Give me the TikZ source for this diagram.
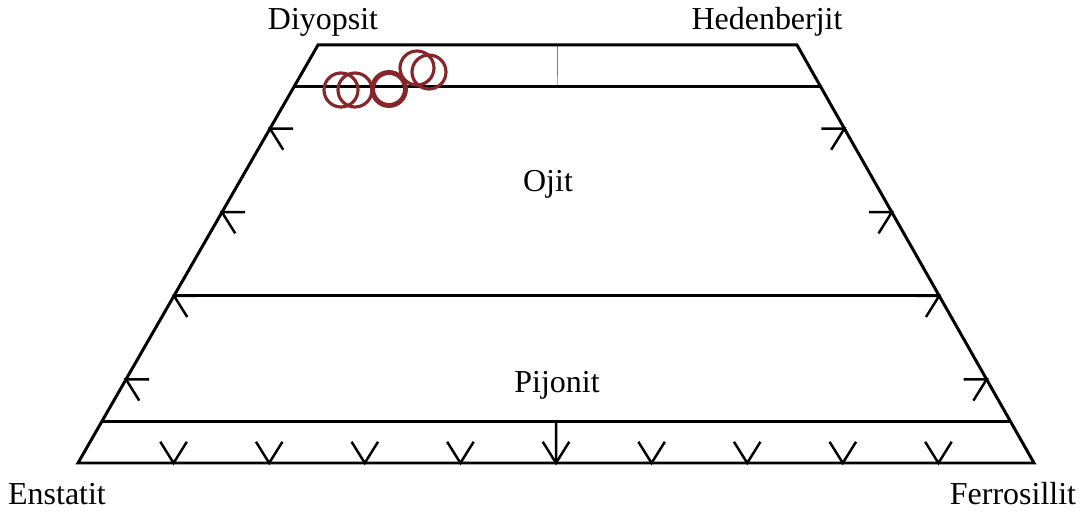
\documentclass[tikz,border=0pt]{standalone}
\usepackage{fontspec}
\setmainfont{Liberation Serif}
\usetikzlibrary{calc}
\definecolor{garnet}{RGB}{135,38,40}
\tikzset{
  frame/.style={black, line width=1.7pt},
  tickline/.style={black, line width=1.4pt},
  spot/.style={garnet, line width=1.8pt},
  lbl/.style={anchor=base, inner sep=0pt, font=\fontsize{18.2}{22}\selectfont}
}
\begin{document}
\begin{tikzpicture}[x=0.02cm,y=0.02cm]
    \useasboundingbox (0,0) rectangle (1087,513) ;
    \coordinate (En) at (78,50) ;
    \coordinate (Fs) at (1034,50) ;
    \coordinate (Di) at (318,468) ;
    \coordinate (Hd) at (797,468) ;
    % thin divider at the top
    \draw [gray, line width=0.4pt] ($(Di)!0.5!(Hd)$) -- ($($(En)!0.9!(Di)$)!0.5!($(Fs)!0.9!(Hd)$)$) ;
    \draw [frame, line join=miter] (En) -- (Fs) -- (Hd) -- (Di) -- cycle ;
    \foreach \t in {0.1,0.4,0.9} {
      \draw [frame] ($(En)!\t!(Di)$) -- ($(Fs)!\t!(Hd)$) ;
    }
    \foreach \t in {0.2,0.4,0.6,0.8} {
      \coordinate (l) at ($(En)!\t!(Di)$) ;
      \coordinate (r) at ($(Fs)!\t!(Hd)$) ;
      \draw [tickline] ($(l)+(0:23)$) -- (l) -- ($(l)+(-58:25)$) ;
      \draw [tickline] ($(r)+(180:23)$) -- (r) -- ($(r)+(238:25)$) ;
    }
    \foreach \k in {1,...,9} {
      \coordinate (b) at ($(En)!\k/10!(Fs)$) ;
      \draw [tickline] ($(b)+(122:25)$) -- (b) -- ($(b)+(58:25)$) ;
    }
    \draw [tickline] ($($(En)!0.1!(Di)$)!0.5!($(Fs)!0.1!(Hd)$)$) -- ($(En)!0.5!(Fs)$) ;
    % analyses
    \draw [spot] (341,423) circle (17) ;
    \draw [spot] (355,423) circle (17) ;
    \draw [spot, line width=2.8pt] (389,424) circle (16.5) ;
    \draw [spot] (417,445) circle (17) ;
    \draw [spot] (429,441) circle (17) ;
    % labels
    \node [lbl] (diy) at (323,483) {Diyopsit} ;
    \node [lbl] (hed) at (767,483) {Hedenberjit} ;
    \node [lbl] (oji) at (548,321) {Ojit} ;
    \node [lbl] (pij) at (557,120) {Pijonit} ;
    \node [lbl] (ens) at (57,8) {Enstatit} ;
    \node [lbl] (fer) at (1013,8) {Ferrosillit} ;
\end{tikzpicture}
\end{document}
